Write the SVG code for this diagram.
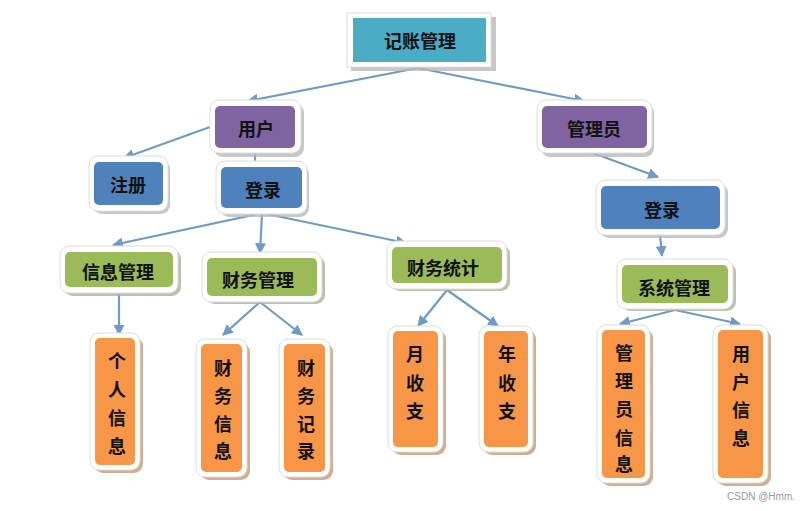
<svg xmlns="http://www.w3.org/2000/svg" width="809" height="511" viewBox="0 0 809 511">
<style>
.sh{fill:#b9b9b9;opacity:.8}
.fr{fill:#ffffff;stroke:#dcdcdc;stroke-width:1}
.t{font-family:"Noto Sans CJK SC","Noto Sans",sans-serif;font-size:18px;font-weight:bold;fill:#111;text-anchor:middle;dominant-baseline:central}
.c{fill:none;stroke:#6F9BC9;stroke-width:2.2}
.teal{fill:#4BACC6}.pur{fill:#8064A2}.blu{fill:#4F81BD}.grn{fill:#9BBB59}.org{fill:#F79646}
.osh{fill:#c9a07c;opacity:.85}.gsh{fill:#aab29a}
</style>
<defs>
<marker id="ar" viewBox="0 0 10 10" refX="9" refY="5" markerWidth="5" markerHeight="5" orient="auto" markerUnits="strokeWidth">
<path d="M0,0 L10,5 L0,10 z" fill="#6F9BC9"/>
</marker>
</defs>
<rect width="809" height="511" fill="#ffffff"/>
<g id="connectors">
<path class="c" d="M418,68 L248,101" marker-end="url(#ar)"/>
<path class="c" d="M418,68 L584,101" marker-end="url(#ar)"/>
<path class="c" d="M210,127 L124,158" marker-end="url(#ar)"/>
<path class="c" d="M255,153 L255,162"/>
<path class="c" d="M262,213 L113,245" marker-end="url(#ar)"/>
<path class="c" d="M262,213 L260,253" marker-end="url(#ar)"/>
<path class="c" d="M262,213 L406,243" marker-end="url(#ar)"/>
<path class="c" d="M119,294 L119,335" marker-end="url(#ar)"/>
<path class="c" d="M260,302 L223,335" marker-end="url(#ar)"/>
<path class="c" d="M260,302 L302,335" marker-end="url(#ar)"/>
<path class="c" d="M447,290 L418,326" marker-end="url(#ar)"/>
<path class="c" d="M447,290 L498,326" marker-end="url(#ar)"/>
<path class="c" d="M593,153 L658,177" marker-end="url(#ar)"/>
<path class="c" d="M660,235 L662,256" marker-end="url(#ar)"/>
<path class="c" d="M675,310 L620,324" marker-end="url(#ar)"/>
<path class="c" d="M675,310 L740,324" marker-end="url(#ar)"/>
</g>
<g id="n-root">
<rect class="sh" x="351" y="17" width="145" height="54"/>
<rect class="fr" x="347" y="13" width="144" height="54"/>
<rect class="teal" x="353" y="18" width="133" height="44"/>
<text class="t" x="420" y="40">记账管理</text>
</g>
<g id="n-user">
<rect class="sh" x="214" y="104" width="90" height="53" rx="9"/>
<rect class="fr" x="210" y="100" width="91" height="53" rx="9"/>
<rect class="pur" x="215" y="106" width="80" height="42" rx="5"/>
<text class="t" x="256" y="128">用户</text>
</g>
<g id="n-admin">
<rect class="sh" x="541" y="104" width="113" height="53" rx="9"/>
<rect class="fr" x="537" y="100" width="115" height="53" rx="9"/>
<rect class="pur" x="542" y="106" width="105" height="42" rx="5"/>
<text class="t" x="594" y="128">管理员</text>
</g>
<g id="n-register">
<rect class="sh" x="93" y="160" width="77" height="54" rx="9"/>
<rect class="fr" x="89" y="156" width="79" height="55" rx="9"/>
<rect class="blu" x="94" y="162" width="69" height="43" rx="5"/>
<text class="t" x="128" y="184">注册</text>
</g>
<g id="n-login-user">
<rect class="sh" x="220" y="165" width="89" height="52" rx="9"/>
<rect class="fr" x="216" y="161" width="91" height="53" rx="9"/>
<rect class="blu" x="221" y="167" width="81" height="41" rx="5"/>
<text class="t" x="263" y="189">登录</text>
</g>
<g id="n-login-admin">
<rect class="sh" x="600" y="184" width="128" height="54" rx="9"/>
<rect class="fr" x="596" y="180" width="129" height="55" rx="9"/>
<rect class="blu" x="601" y="186" width="119" height="43" rx="5"/>
<text class="t" x="662" y="209">登录</text>
</g>
<g id="n-info">
<rect class="sh gsh" x="64" y="250" width="117" height="46" rx="9"/>
<rect class="fr" x="60" y="246" width="118" height="47" rx="9"/>
<rect class="grn" x="65" y="252" width="108" height="35" rx="5"/>
<text class="t" x="118" y="271">信息管理</text>
</g>
<g id="n-finance">
<rect class="sh gsh" x="206" y="256" width="119" height="48" rx="9"/>
<rect class="fr" x="202" y="252" width="120" height="50" rx="9"/>
<rect class="grn" x="207" y="258" width="110" height="38" rx="5"/>
<text class="t" x="258" y="279">财务管理</text>
</g>
<g id="n-stats">
<rect class="sh gsh" x="391" y="245" width="119" height="46" rx="9"/>
<rect class="fr" x="387" y="241" width="120" height="48" rx="9"/>
<rect class="grn" x="392" y="247" width="110" height="36" rx="5"/>
<text class="t" x="443" y="267">财务统计</text>
</g>
<g id="n-sys">
<rect class="sh gsh" x="621" y="263" width="115" height="48" rx="9"/>
<rect class="fr" x="617" y="259" width="116" height="50" rx="9"/>
<rect class="grn" x="622" y="265" width="106" height="38" rx="5"/>
<text class="t" x="674" y="287">系统管理</text>
</g>
<g id="n-personal">
<rect class="sh osh" x="94" y="337" width="49" height="136" rx="9"/>
<rect class="fr" x="90" y="333" width="50" height="137" rx="9"/>
<rect class="org" x="95" y="338" width="40" height="127" rx="5"/>
<text class="t" x="117" y="360">个</text><text class="t" x="117" y="388">人</text><text class="t" x="117" y="417">信</text><text class="t" x="117" y="445">息</text>
</g>
<g id="n-fininfo">
<rect class="sh osh" x="200" y="343" width="50" height="137" rx="9"/>
<rect class="fr" x="196" y="339" width="51" height="138" rx="9"/>
<rect class="org" x="201" y="344" width="41" height="128" rx="5"/>
<text class="t" x="223" y="367">财</text><text class="t" x="223" y="395">务</text><text class="t" x="223" y="423">信</text><text class="t" x="223" y="450">息</text>
</g>
<g id="n-finrec">
<rect class="sh osh" x="283" y="343" width="50" height="137" rx="9"/>
<rect class="fr" x="279" y="339" width="51" height="138" rx="9"/>
<rect class="org" x="284" y="344" width="41" height="128" rx="5"/>
<text class="t" x="306" y="367">财</text><text class="t" x="306" y="395">务</text><text class="t" x="306" y="423">记</text><text class="t" x="306" y="450">录</text>
</g>
<g id="n-month">
<rect class="sh osh" x="392" y="330" width="54" height="125" rx="9"/>
<rect class="fr" x="388" y="326" width="55" height="126" rx="9"/>
<rect class="org" x="393" y="331" width="45" height="116" rx="5"/>
<text class="t" x="415" y="353">月</text><text class="t" x="415" y="382">收</text><text class="t" x="415" y="410">支</text>
</g>
<g id="n-year">
<rect class="sh osh" x="483" y="330" width="53" height="125" rx="9"/>
<rect class="fr" x="479" y="326" width="54" height="126" rx="9"/>
<rect class="org" x="484" y="331" width="44" height="116" rx="5"/>
<text class="t" x="507" y="353">年</text><text class="t" x="507" y="382">收</text><text class="t" x="507" y="410">支</text>
</g>
<g id="n-admininfo">
<rect class="sh osh" x="601" y="329" width="52" height="157" rx="9"/>
<rect class="fr" x="597" y="325" width="53" height="158" rx="9"/>
<rect class="org" x="602" y="330" width="43" height="148" rx="5"/>
<text class="t" x="624" y="352">管</text><text class="t" x="624" y="380">理</text><text class="t" x="624" y="408">员</text><text class="t" x="624" y="437">信</text><text class="t" x="624" y="463">息</text>
</g>
<g id="n-userinfo">
<rect class="sh osh" x="717" y="329" width="54" height="157" rx="9"/>
<rect class="fr" x="713" y="325" width="55" height="158" rx="9"/>
<rect class="org" x="718" y="330" width="45" height="148" rx="5"/>
<text class="t" x="741" y="353">用</text><text class="t" x="741" y="381">户</text><text class="t" x="741" y="409">信</text><text class="t" x="741" y="437">息</text>
</g>
<text x="795" y="500" font-family="'Liberation Sans',sans-serif" font-size="10" fill="#999" text-anchor="end">CSDN @Hmm.</text>
</svg>
